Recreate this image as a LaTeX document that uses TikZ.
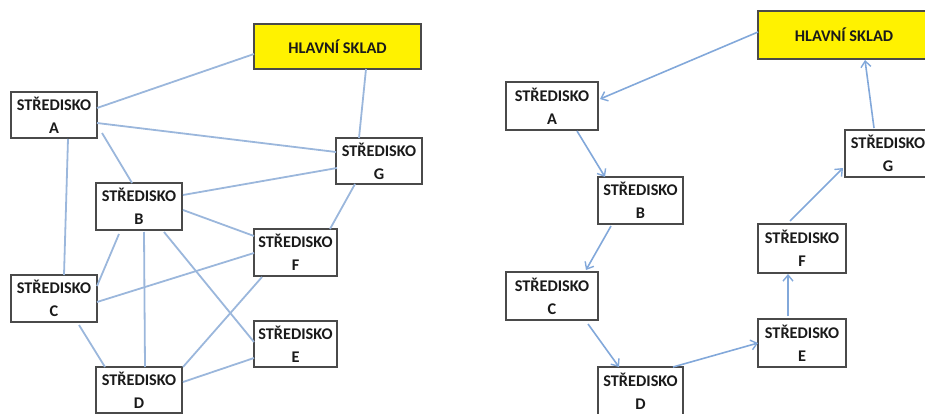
\documentclass[tikz,border=0pt]{standalone}
\usepackage{fontspec}
\setmainfont{Carlito}
\usetikzlibrary{arrows.meta}
\definecolor{edgeblue}{HTML}{9BB7DC}
\definecolor{arrowblue}{HTML}{82A8DA}
\definecolor{boxgray}{HTML}{4A4A4A}
\definecolor{textdark}{HTML}{1A1A1A}
\tikzset{
  box/.style={draw=boxgray, line width=2.2pt, fill=white, inner sep=0pt, align=center,
    text=textdark, font=\bfseries\fontsize{16.3}{23}\selectfont, minimum height=46pt},
  mainbox/.style={box, fill=yellow},
  link/.style={draw=edgeblue, line width=1.8pt},
  flow/.style={draw=arrowblue, line width=1.6pt, -{Straight Barb[length=6pt,width=10pt,line width=1.4pt]}},
}
\begin{document}
\begin{tikzpicture}[x=1pt,y=-1pt]
\useasboundingbox (0,0) rectangle (925,414);
\clip (0,0) rectangle (925,414);
% ---------- left diagram ----------
\node[mainbox, minimum width=167pt, minimum height=45pt] (LH) at (337.5,46.5) {HLAVNÍ SKLAD};
\node[box, minimum width=86pt] (LA) at (54,115) {STŘEDISKO\\A};
\node[box, minimum width=86pt] (LG) at (379,161) {STŘEDISKO\\G};
\node[box, minimum width=86pt, minimum height=47pt] (LB) at (139,206.5) {STŘEDISKO\\B};
\node[box, minimum width=83pt, minimum height=47pt] (LF) at (295.5,252.5) {STŘEDISKO\\F};
\node[box, minimum width=86pt, minimum height=47pt] (LC) at (54,298.5) {STŘEDISKO\\C};
\node[box, minimum width=83pt] (LE) at (295.5,344) {STŘEDISKO\\E};
\node[box, minimum width=86pt] (LD) at (139,390) {STŘEDISKO\\D};
\draw[link] ([shift={(43,-7)}]LA.center) -- ([shift={(-83.5,7.5)}]LH.center);
\draw[link] ([shift={(28.5,22.5)}]LH.center) -- ([shift={(-20,-23)}]LG.center);
\draw[link] ([shift={(43,8)}]LA.center) -- ([shift={(-43,-9)}]LG.center);
\draw[link] ([shift={(48,18)}]LA.center) -- ([shift={(-7,-23.5)}]LB.center);
\draw[link] ([shift={(14,24)}]LA.center) -- ([shift={(10,-23.5)}]LC.center);
\draw[link] ([shift={(44,-11.5)}]LB.center) -- ([shift={(-42,7)}]LG.center);
\draw[link] ([shift={(44,3.5)}]LB.center) -- ([shift={(-41.5,-16.5)}]LF.center);
\draw[link] ([shift={(-24,23)}]LG.center) -- ([shift={(34.5,-23.5)}]LF.center);
\draw[link] ([shift={(-20,27.5)}]LB.center) -- ([shift={(43,-12.5)}]LC.center);
\draw[link] ([shift={(5,25.5)}]LB.center) -- ([shift={(6,-23)}]LD.center);
\draw[link] ([shift={(25,25.5)}]LB.center) -- ([shift={(-41.5,-2)}]LE.center);
\draw[link] ([shift={(43,3.5)}]LC.center) -- ([shift={(-41.5,0.5)}]LF.center);
\draw[link] ([shift={(-33.5,24.5)}]LF.center) -- ([shift={(44,-23)}]LD.center);
\draw[link] ([shift={(25,26.5)}]LC.center) -- ([shift={(-34,-23)}]LD.center);
\draw[link] ([shift={(-41.5,14)}]LE.center) -- ([shift={(44,-8)}]LD.center);
% ---------- right diagram ----------
\node[mainbox, minimum width=172pt, minimum height=48pt] (RH) at (844,35) {HLAVNÍ SKLAD};
\node[box, minimum width=92pt, minimum height=48pt] (RA) at (552,106) {STŘEDISKO\\A};
\node[box, minimum width=86pt, minimum height=47pt] (RG) at (888,153.5) {STŘEDISKO\\G};
\node[box, minimum width=85pt, minimum height=47pt] (RB) at (640.5,200.5) {STŘEDISKO\\B};
\node[box, minimum width=88pt, minimum height=49pt] (RF) at (802,248.5) {STŘEDISKO\\F};
\node[box, minimum width=92pt, minimum height=48pt] (RC) at (552,296) {STŘEDISKO\\C};
\node[box, minimum width=88pt, minimum height=48pt] (RE) at (802,343) {STŘEDISKO\\E};
\node[box, minimum width=85pt, minimum height=48pt] (RD) at (640.5,391) {STŘEDISKO\\D};
\draw[flow] ([shift={(-86,-3)}]RH.center) -- ([shift={(48,-7)}]RA.center);
\draw[flow] ([shift={(25,25)}]RA.center) -- ([shift={(-35.5,-23.5)}]RB.center);
\draw[flow] ([shift={(-29.5,25.5)}]RB.center) -- ([shift={(34,-26)}]RC.center);
\draw[flow] ([shift={(36,28)}]RC.center) -- ([shift={(-21.5,-24)}]RD.center);
\draw[flow] ([shift={(32.5,-24)}]RD.center) -- ([shift={(-44,0)}]RE.center);
\draw[flow] ([shift={(-14,-27)}]RE.center) -- ([shift={(-14,25.5)}]RF.center);
\draw[flow] ([shift={(-12,-27.5)}]RF.center) -- ([shift={(-45,14.5)}]RG.center);
\draw[flow] ([shift={(-14,-25.5)}]RG.center) -- ([shift={(21,25)}]RH.center);
\end{tikzpicture}
\end{document}
